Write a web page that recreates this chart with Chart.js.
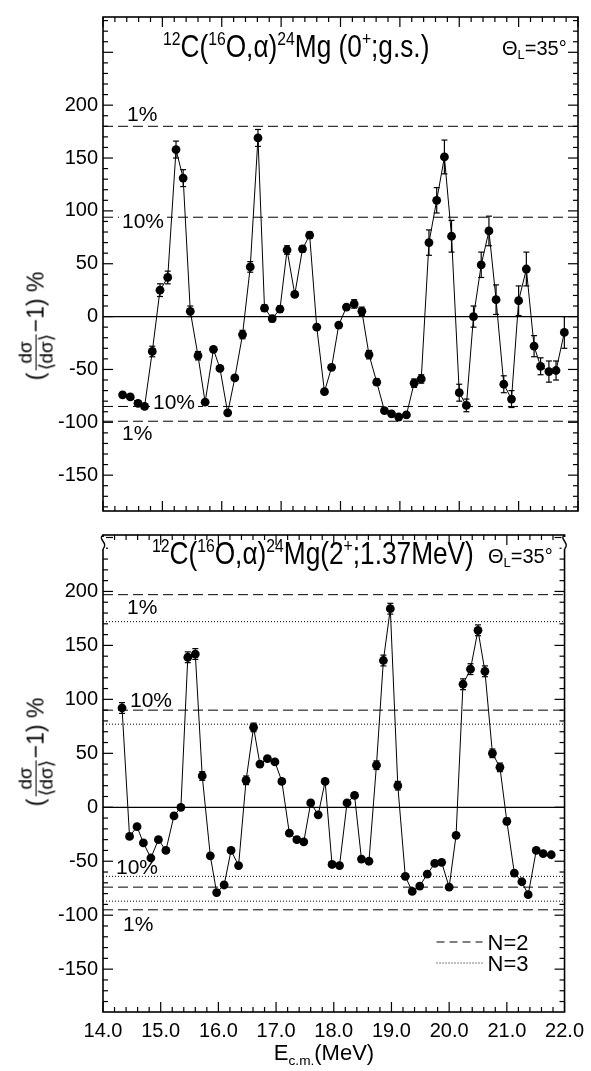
<!DOCTYPE html>
<html>
<head>
<meta charset="utf-8">
<script src="https://cdn.jsdelivr.net/npm/chart.js@4.4.1/dist/chart.umd.min.js"></script>
<style>
  body { margin: 0; background: #fff; }
  #page { position: relative; width: 591px; height: 1071px; overflow: hidden; font-family: 'Liberation Sans', Arial, sans-serif; color: #000; }
  canvas { position: absolute; left: 0; }
  .ttl { position: absolute; white-space: nowrap; font-size: 32px; transform-origin: 0 0; transform: scaleX(0.82); }
  .ttl sup { font-size: 60%; vertical-align: baseline; position: relative; top: -0.62em; }
  .theta { position: absolute; white-space: nowrap; font-size: 20px; }
  .theta sub { font-size: 65%; vertical-align: baseline; position: relative; top: 0.3em; }
  .ytitle { position: absolute; transform: translate(-50%, -50%) rotate(-90deg); display: flex; align-items: center; font-size: 23px; white-space: nowrap; }
  .frac { display: inline-flex; flex-direction: column; align-items: center; line-height: 1.05; font-size: 19px; margin: 0 2px; }
  .frac .den { border-top: 1.5px solid #000; }
  .xtitle { position: absolute; white-space: nowrap; font-size: 22px; transform: translateX(-50%); }
  .xtitle sub { font-size: 62%; vertical-align: baseline; position: relative; top: 0.35em; }
</style>
</head>
<body>
<div id="page">
  <canvas id="gs" width="591" height="528" style="top:0"></canvas>
  <canvas id="ex" width="591" height="553" style="top:518px"></canvas>

  <div class="ttl" style="left:163px; top:28px;"><sup>12</sup>C(<sup>16</sup>O,α)<sup>24</sup>Mg (0<sup>+</sup>;g.s.)</div>
  <div class="theta" style="left:502px; top:37px;">Θ<sub>L</sub>=35°</div>
  <div class="ttl" style="left:152px; top:535px;"><sup>12</sup>C(<sup>16</sup>O,α)<sup>24</sup>Mg(2<sup>+</sup>;1.37MeV)</div>
  <div class="theta" style="left:488px; top:545px;">Θ<sub>L</sub>=35°</div>

  <div class="ytitle" style="left:36px; top:326px;"><span>(</span><span class="frac"><span>dσ</span><span class="den">⟨dσ⟩</span></span><span>−1) %</span></div>
  <div class="ytitle" style="left:36px; top:752px;"><span>(</span><span class="frac"><span>dσ</span><span class="den">⟨dσ⟩</span></span><span>−1) %</span></div>

  <div class="xtitle" style="left:324px; top:1040px;">E<sub>c.m.</sub>(MeV)</div>
</div>

<script>
const energy = [14.33, 14.46, 14.59, 14.70, 14.83, 14.96, 15.09, 15.23, 15.35, 15.47,
                15.60, 15.72, 15.86, 15.97, 16.10, 16.22, 16.35, 16.48, 16.61, 16.72,
                16.85, 16.98, 17.10, 17.23, 17.36, 17.48, 17.60, 17.73, 17.85, 17.97,
                18.10, 18.23, 18.36, 18.48, 18.61, 18.74, 18.86, 18.98, 19.11, 19.24,
                19.36, 19.49, 19.62, 19.75, 19.87, 20.00, 20.12, 20.24, 20.37, 20.50,
                20.62, 20.75, 20.88, 21.00, 21.13, 21.26, 21.37, 21.51, 21.63, 21.77];

// (dσ/<dσ> - 1) % for 24Mg (0+; g.s.)
const gsValues = [-74, -76, -82, -85, -33, 25, 37, 158, 131, 5,
                  -37, -81, -31, -49, -91, -58, -17, 47, 169, 8,
                  -2, 7, 63, 21, 64, 77, -10, -71, -48, -8,
                  9, 12, 5, -36, -62, -89, -92, -95, -93, -63,
                  -59, 70, 110, 151, 76, -72, -84, 0, 49, 81,
                  16, -64, -78, 15, 45, -28, -47, -52, -51, -15];
const gsErrors = [0, 0, 0, 0, 5, 6, 6, 8, 8, 5,
                  4, 0, 0, 0, 0, 0, 4, 5, 8, 3,
                  3, 3, 4, 0, 3, 3, 0, 0, 0, 0,
                  0, 4, 4, 4, 3, 0, 0, 0, 0, 4,
                  4, 12, 12, 16, 15, 8, 6, 10, 12, 14,
                  14, 8, 8, 14, 16, 10, 8, 10, 9, 15];

// (dσ/<dσ> - 1) % for 24Mg (2+; 1.37 MeV)
const exValues = [92, -27, -18, -33, -47, -30, -40, -8, 0, 139,
                  142, 29, -45, -79, -72, -40, -54, 25, 74, 40,
                  45, 42, 24, -24, -30, -32, 4, -7, 24, -53,
                  -54, 4, 11, -48, -50, 39, 136, 184, 20, -64,
                  -78, -73, -62, -52, -51, -74, -26, 114, 128, 164,
                  126, 50, 37, -13, -61, -69, -81, -40, -43, -44];
const exErrors = [5, 0, 0, 0, 0, 0, 0, 0, 0, 5,
                  5, 4, 0, 0, 0, 0, 0, 4, 4, 0,
                  0, 0, 0, 0, 0, 0, 0, 0, 0, 0,
                  0, 0, 0, 0, 0, 4, 5, 5, 4, 0,
                  0, 0, 0, 0, 0, 0, 0, 5, 5, 5,
                  5, 4, 4, 3, 0, 0, 0, 0, 0, 0];

// confidence limits (upper, lower) for N=2 and N=3 degrees of freedom
const gsN2Limit1 = [180, -99];
const gsN2Limit10 = [94, -85];
const exN2Limit1 = [197, -95];
const exN2Limit10 = [90, -74];
const exN3Limit1 = [172, -87];
const exN3Limit10 = [77, -64];

const yTickLabels = [-150, -100, -50, 0, 50, 100, 150, 200];
const xTickLabels = ['14.0', '15.0', '16.0', '17.0', '18.0', '19.0', '20.0', '21.0', '22.0'];

const FONT = "'Liberation Sans', Arial, sans-serif";

function hLine(y, dash, width) {
    return { data: [{ x: 14, y: y }, { x: 22, y: y }], borderColor: '#000', borderWidth: width || 1,
             borderDash: dash, pointRadius: 0, fill: false, tension: 0 };
}

function series(values) {
    return { data: values.map((v, i) => ({ x: energy[i], y: v })), borderColor: '#000', borderWidth: 1,
             pointRadius: 4.4, pointBackgroundColor: '#000', pointBorderWidth: 0, fill: false, tension: 0 };
}

// error bars, frame, inward ticks, percentage labels, legend, axis break
const panelDecor = {
    id: 'panelDecor',
    afterDatasetsDraw(chart, args, opts) {
        const ctx = chart.ctx, a = chart.chartArea;
        const xs = chart.scales.x, ys = chart.scales.y;
        const line = (x1, y1, x2, y2) => { ctx.beginPath(); ctx.moveTo(x1, y1); ctx.lineTo(x2, y2); ctx.stroke(); };
        ctx.save();
        ctx.strokeStyle = '#000';
        ctx.fillStyle = '#000';

        // error bars
        const meta = chart.getDatasetMeta(0);
        const pts = chart.data.datasets[0].data;
        ctx.lineWidth = 1.2;
        meta.data.forEach((el, i) => {
            const e = opts.errors[i];
            if (!e) return;
            const y1 = ys.getPixelForValue(pts[i].y + e), y2 = ys.getPixelForValue(pts[i].y - e);
            line(el.x, y1, el.x, y2);
            line(el.x - 3, y1, el.x + 3, y1);
            line(el.x - 3, y2, el.x + 3, y2);
        });

        // percentage labels on the limit lines
        ctx.font = '21px ' + FONT;
        ctx.textBaseline = 'alphabetic';
        opts.labels.forEach(l => {
            const x = a.left + l.dx, y = ys.getPixelForValue(l.v) + l.dy;
            if (l.bg) {
                const w = ctx.measureText(l.text).width;
                ctx.fillStyle = '#fff';
                ctx.fillRect(x - 3, y - 16, w + 6, 18);
                ctx.fillStyle = '#000';
            }
            ctx.fillText(l.text, x, y);
        });

        // legend
        if (opts.legend) {
            ctx.font = '22px ' + FONT;
            opts.legend.forEach(g => {
                const y = a.bottom - g.dy;
                ctx.lineWidth = 1;
                ctx.setLineDash(g.dash);
                line(a.right - 128, y, a.right - 82, y);
                ctx.setLineDash([]);
                ctx.fillText(g.text, a.right - 77, y + 8);
            });
        }

        // frame
        ctx.lineWidth = 1.6;
        ctx.strokeRect(a.left, a.top, a.right - a.left, a.bottom - a.top);

        // inward ticks
        ctx.lineWidth = 1.2;
        for (let v = Math.ceil(ys.min / 10) * 10; v <= ys.max; v += 10) {
            const y = ys.getPixelForValue(v), len = v % 50 === 0 ? 10 : 5;
            line(a.left, y, a.left + len, y);
            line(a.right, y, a.right - len, y);
        }
        for (let k = 0; k <= 40; k++) {
            const x = xs.getPixelForValue(14 + k * 0.2), len = k % 5 === 0 ? 10 : 5;
            line(x, a.top, x, a.top + len);
            line(x, a.bottom, x, a.bottom - len);
        }

        // axis break marks
        if (opts.breakMarks) {
            [a.left, a.right].forEach(x => {
                ctx.fillStyle = '#fff';
                ctx.fillRect(x - 3, a.top + 2, 6, 12);
                ctx.lineWidth = 1.4;
                ctx.beginPath();
                ctx.moveTo(x, a.top);
                ctx.bezierCurveTo(x - 6, a.top + 4, x + 6, a.top + 8, x, a.top + 14);
                ctx.stroke();
            });
        }
        ctx.restore();
    }
};

function yScale(min, max) {
    return {
        min: min, max: max,
        grid: { display: false, drawTicks: false }, border: { display: false },
        ticks: {
            stepSize: 50, padding: 5, color: '#000', font: { family: FONT, size: 20 },
            callback: v => yTickLabels.includes(v) ? String(v) : ''
        },
        afterFit: s => { s.width = 103; }
    };
}

function makeChart(id, datasets, opts) {
    return new Chart(document.getElementById(id), {
        type: 'line',
        data: { datasets: datasets },
        options: {
            responsive: false, animation: false, maintainAspectRatio: false,
            layout: { padding: opts.padding },
            plugins: { legend: { display: false }, tooltip: { enabled: false }, panelDecor: opts.decor },
            scales: { x: opts.x, y: yScale(opts.ymin, opts.ymax) }
        },
        plugins: [panelDecor]
    });
}

makeChart('gs', [
    series(gsValues),
    hLine(0, [], 1.2),
    hLine(gsN2Limit1[0], [10, 5]), hLine(gsN2Limit1[1], [10, 5]),
    hLine(gsN2Limit10[0], [10, 5]), hLine(gsN2Limit10[1], [10, 5])
], {
    padding: { top: 9, right: 13, bottom: 5, left: 0 },
    ymin: -183.9, ymax: 283.4,
    x: { type: 'linear', min: 14, max: 22, display: false },
    decor: {
        errors: gsErrors,
        labels: [
            { text: '1%', v: gsN2Limit1[0], dx: 24, dy: -5 },
            { text: '10%', v: gsN2Limit10[0], dx: 19, dy: 11, bg: true },
            { text: '10%', v: gsN2Limit10[1], dx: 50, dy: 3, bg: true },
            { text: '1%', v: gsN2Limit1[1], dx: 19, dy: 19 }
        ]
    }
});

makeChart('ex', [
    series(exValues),
    hLine(0, [], 1.2),
    hLine(exN2Limit1[0], [10, 5]), hLine(exN2Limit1[1], [10, 5]),
    hLine(exN2Limit10[0], [10, 5]), hLine(exN2Limit10[1], [10, 5]),
    hLine(exN3Limit1[0], [1, 2]), hLine(exN3Limit1[1], [1, 2]),
    hLine(exN3Limit10[0], [1, 2]), hLine(exN3Limit10[1], [1, 2])
], {
    padding: { top: 5, right: 13, bottom: 0, left: 0 },
    ymin: -189.7, ymax: 252.3,
    x: {
        type: 'linear', min: 14, max: 22,
        grid: { display: false, drawTicks: false }, border: { display: false },
        ticks: {
            stepSize: 1, padding: 7, color: '#000', maxRotation: 0, autoSkip: false,
            font: { family: FONT, size: 20 },
            callback: v => xTickLabels[Math.round(v - 14)] || ''
        },
        afterFit: s => { s.height = 59; }
    },
    decor: {
        errors: exErrors,
        breakMarks: true,
        labels: [
            { text: '1%', v: exN2Limit1[0], dx: 24, dy: 19 },
            { text: '10%', v: exN2Limit10[0], dx: 27, dy: -3 },
            { text: '10%', v: exN3Limit10[1], dx: 13, dy: -2 },
            { text: '1%', v: exN2Limit1[1], dx: 20, dy: 21 }
        ],
        legend: [
            { text: 'N=2', dash: [8, 5], dy: 70 },
            { text: 'N=3', dash: [1, 2], dy: 49 }
        ]
    }
});
</script>
</body>
</html>
